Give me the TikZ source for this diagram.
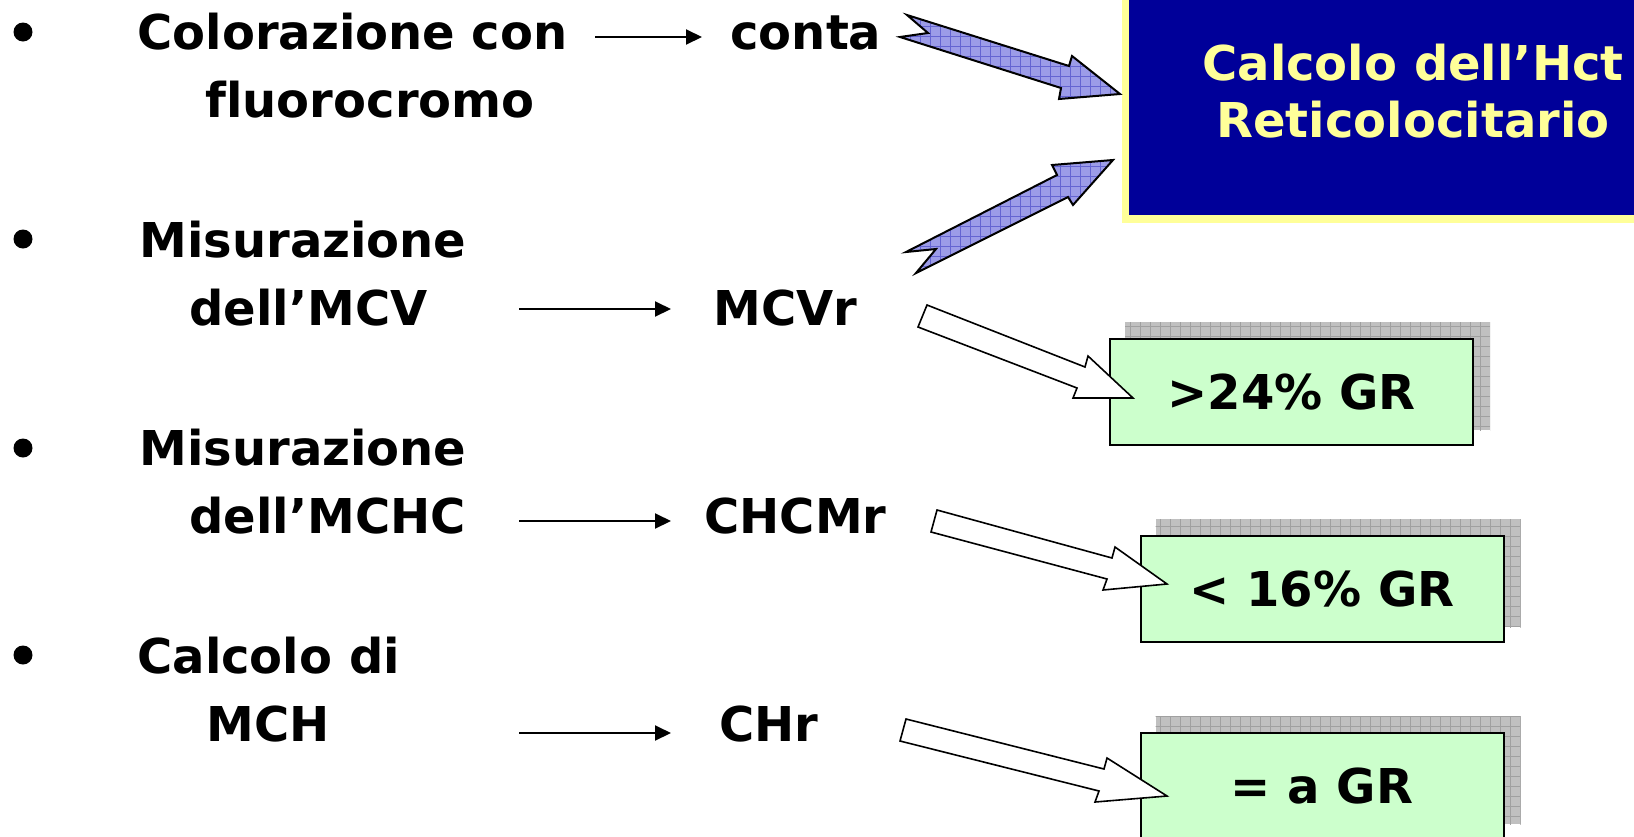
\documentclass[tikz,border=0pt]{standalone}
\usepackage{fontspec}
\setmainfont{DejaVu Sans}[Ligatures=CommonOff]
\usetikzlibrary{arrows.meta,patterns.meta,backgrounds}

\definecolor{hctblue}{HTML}{000099}
\definecolor{hctyellow}{HTML}{FFFF99}
\definecolor{boxgreen}{HTML}{CCFFCC}
\definecolor{arrowblue}{HTML}{9C9CE8}
\definecolor{gridblue}{HTML}{6464D2}
\definecolor{shadegray}{HTML}{C0C0C0}
\definecolor{gridgray}{HTML}{A0A0A0}

\tikzset{
  every node/.style={font=\fontsize{24}{28.5}\selectfont\bfseries, inner sep=0pt},
  txt/.style={anchor=base west},
  bulletdot/.style={circle, fill=black, minimum size=9.5pt},
  flow/.style={-{Triangle[length=8pt,width=7.5pt]}, line width=1pt},
  hctbox/.style={fill=hctblue, draw=hctyellow, line width=3.75pt, text=hctyellow,
    align=center, minimum width=287.5pt, minimum height=128pt},
  resbox/.style={fill=boxgreen, draw=black, line width=1pt,
    minimum width=181.5pt, minimum height=53pt},
  shadowbox/.style={preaction={fill=shadegray},
    pattern={Hatch[angle=0,distance=5pt,line width=0.4pt]}, pattern color=gridgray},
  bluearrow/.style={preaction={fill=arrowblue},
    pattern={Hatch[angle=0,distance=5pt,line width=0.25pt]}, pattern color=gridblue,
    draw=black, line width=1pt},
  whitearrow/.style={fill=white, draw=black, line width=0.8pt},
}

\begin{document}
\begin{tikzpicture}[x=0.5pt, y=-0.5pt]
  \useasboundingbox (0,0) rectangle (1634,836);
  \clip (0,0) rectangle (1634,836);

  % boxes on the right
  \node[hctbox] (hct) at (1413,91) {Calcolo dell’Hct\\Reticolocitario};
  \node[resbox] (g1) at (1291.5,392) {>24\% GR};
  \node[resbox] (g2) at (1322,589) {< 16\% GR};
  \node[resbox] (g3) at (1322,786) {= a GR};
  \begin{scope}[on background layer]
    \fill[white] (0,0) rectangle (1634,836);
    \path[shadowbox] ([shift={(16,-16)}]g1.south west) rectangle ([shift={(16,-16)}]g1.north east);
    \path[shadowbox] ([shift={(16,-16)}]g2.south west) rectangle ([shift={(16,-16)}]g2.north east);
    \path[shadowbox] ([shift={(16,-16)}]g3.south west) rectangle ([shift={(16,-16)}]g3.north east);
  \end{scope}

  % bullet list
  \node[bulletdot] (d1) at (23,32) {};
  \node[bulletdot] (d2) at (23,239) {};
  \node[bulletdot] (d3) at (23,448) {};
  \node[bulletdot] (d4) at (23,655) {};
  \node[txt] (t1) at (137,49) {Colorazione con};
  \node[txt] (t1b) at (205,117) {fluorocromo};
  \node[txt] (t2) at (139,257) {Misurazione};
  \node[txt] (t2b) at (189,325) {dell’MCV};
  \node[txt] (t3) at (139,465) {Misurazione};
  \node[txt] (t3b) at (189,533) {dell’MCHC};
  \node[txt] (t4) at (137,673) {Calcolo di};
  \node[txt] (t4b) at (206,741) {MCH};
  \node[txt] (r1) at (730,49) {conta};
  \node[txt] (r2) at (713,325) {MCVr};
  \node[txt] (r3) at (704,533) {CHCMr};
  \node[txt] (r4) at (719,741) {CHr};

  \draw[flow] (r1.base west) ++(-135,-12) -- ++(107,0);
  \draw[flow] (r2.base west) ++(-194,-16) -- ++(152,0);
  \draw[flow] (r3.base west) ++(-185,-12) -- ++(152,0);
  \draw[flow] (r4.base west) ++(-200,-8) -- ++(152,0);

  % block arrows
  \draw[bluearrow] (907,15) -- (1069,66) -- (1072,56) -- (1120,94) -- (1059,99)
    -- (1061,88) -- (900,37) -- (928,33) -- cycle;
  \draw[bluearrow] (906,252) -- (1057,175) -- (1052,165) -- (1113,160) -- (1073,205)
    -- (1068,197) -- (916,273) -- (936,249) -- cycle;
  \draw[whitearrow] (927,305) -- (1085,367) -- (1088,356) -- (1133,398) -- (1073,398)
    -- (1077,388) -- (918,327) -- cycle;
  \draw[whitearrow] (937,510) -- (1112,558) -- (1115,547) -- (1167,584) -- (1103,590)
    -- (1107,579) -- (931,532) -- cycle;
  \draw[whitearrow] (906,719) -- (1104,769) -- (1107,758) -- (1167,796) -- (1095,802)
    -- (1099,791) -- (900,741) -- cycle;
\end{tikzpicture}
\end{document}
